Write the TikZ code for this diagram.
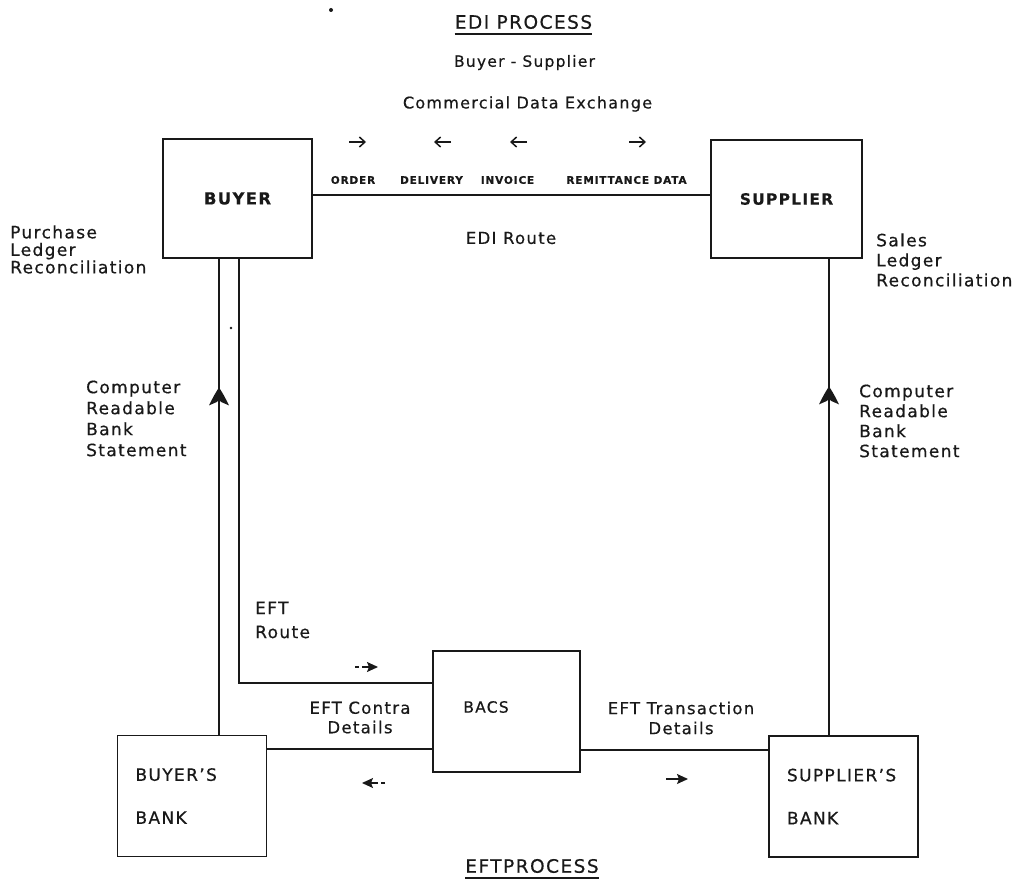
\documentclass[tikz,border=0pt]{standalone}
\usepackage{fontspec}
\setmainfont{DejaVu Sans}[LetterSpace=8, FakeBold=0.5]
\usetikzlibrary{arrows.meta,decorations.markings}
\definecolor{inkc}{gray}{0.1}

\tikzset{
  wire/.style={draw=inkc, line width=1.3pt},
  box/.style={wire, rectangle, inner sep=0pt},
  txt/.style={inner sep=0pt, text=inkc},
  side/.style={txt, align=left, anchor=west, font=\fontsize{17}{#1}\selectfont},
  mid/.style={txt, align=center, font=\fontsize{16.5}{#1}\selectfont},
  ttl/.style={txt, font=\fontsize{18.5}{20}\selectfont},
  tag/.style={txt, font=\bfseries\fontsize{10.5}{12}\selectfont},
  bank/.style={box, minimum height=121pt, text width=113pt, inner xsep=18pt,
               align=left, font=\fontsize{17}{43}\selectfont, text=inkc},
  % chevron head sitting on a line, pointing along the path
  upmark/.style={postaction={decorate}, decoration={markings,
      mark=at position #1 with {\fill[inkc] (11pt,0pt) .. controls (3pt,5pt) .. (-7pt,10pt)
          -- (-3.5pt,2pt) -- (-1pt,0pt) -- (-3.5pt,-2pt) -- (-7pt,-10pt)
          .. controls (3pt,-5pt) .. (11pt,0pt) -- cycle;}}},
  dirarrow/.style={draw=inkc, line width=1.5pt, -{Straight Barb[length=5.5pt,width=10pt]}},
  dart/.style={draw=inkc, line width=1.3pt, -{Stealth[length=11pt,width=10pt,inset=2pt]}},
}

\begin{document}
\begin{tikzpicture}[x=1pt, y=-1pt]
  \fill[white] (0,0) rectangle (1023,880);
  \useasboundingbox (0,0) rectangle (1023,880);

  % headings
  \node[ttl] (editl) at (523.5,22) {EDI PROCESS};
  \draw[inkc, line width=1.8pt] ([yshift=-4.5pt]editl.south west) -- ([yshift=-4.5pt]editl.south east);
  \node[txt, font=\fontsize{15.5}{18}\selectfont] (bs) at (524.5,62.5) {Buyer - Supplier};
  \node[txt, font=\fontsize{16}{18}\selectfont] (cde) at (527.5,104) {Commercial Data Exchange};

  \node[ttl] (eftl) at (532,866) {EFTPROCESS};
  \draw[inkc, line width=1.8pt] ([yshift=-5pt]eftl.south west) -- ([yshift=-5pt]eftl.south east);

  % stray marks
  \fill[inkc] (331,10) circle (2pt);
  \fill[inkc] (231,328) circle (1.3pt);

  % trading partners
  \node[box, minimum width=149pt, minimum height=119pt,
        font=\bfseries\fontsize{16.5}{18}\selectfont, text=inkc] (buyer) at (237.5,198.5) {BUYER};
  \node[box, minimum width=151pt, minimum height=118pt,
        font=\bfseries\fontsize{15.5}{18}\selectfont, text=inkc] (supplier) at (786.5,199) {SUPPLIER};

  % banks and clearing house
  \node[bank] (bbank) at (192,796) {BUYER'S\\BANK};
  \node[bank] (sbank) at (843.5,796.5) {SUPPLIER'S\\BANK};
  \node[box, minimum width=147pt, minimum height=121pt] (bacs) at (506.5,711.5) {};
  \node[txt, font=\fontsize{15.5}{16}\selectfont] (bacstxt) at (486,707) {BACS};

  % EDI route
  \draw[wire] ([yshift=3.5pt]buyer.east) -- ([yshift=3.5pt]buyer.east -| supplier.west);
  \node[tag] (order) at (353,180) {ORDER};
  \node[tag] (delivery) at (431.5,180) {DELIVERY};
  \node[tag] (invoice) at (507.5,180) {INVOICE};
  \node[tag] (remit) at (626.5,180) {REMITTANCE DATA};
  \draw[dirarrow] (349,142) -- (366,142);
  \draw[dirarrow] (451,142) -- (434,142);
  \draw[dirarrow] (527,142) -- (510,142);
  \draw[dirarrow] (629,142) -- (646,142);
  \node[mid=20] (ediroute) at (511,238) {EDI Route};

  % bank statements back to the ledgers
  \draw[wire, upmark=0.7065] ([xshift=27pt]bbank.north) -- ([xshift=27pt]bbank.north |- buyer.south);
  \draw[wire, upmark=0.709] ([xshift=-14.5pt]sbank.north) -- ([xshift=-14.5pt]sbank.north |- supplier.south);

  % EFT route
  \draw[wire] ([xshift=1.5pt]buyer.south) |- ([yshift=28.5pt]bacs.west);
  \draw[wire] ([yshift=47pt]bbank.east) -- ([yshift=47pt]bbank.east -| bacs.west);
  \draw[wire] ([yshift=-38.5pt]bacs.east) -- ([yshift=-38.5pt]bacs.east -| sbank.west);

  \draw[dart, dash pattern=on 4pt off 3pt on 40pt] (355,667) -- (378,667);
  \draw[dart, dash pattern=on 4pt off 3pt on 40pt] (385,783) -- (362,783);
  \draw[dart] (666,779) -- (688,779);

  % side annotations
  \node[side=17.5] (purch) at (10,249.5) {Purchase\\Ledger\\Reconciliation};
  \node[side=20] (sales) at (876,260) {Sales\\Ledger\\Reconciliation};
  \node[side=21] (crbl) at (86,418.5) {Computer\\Readable\\Bank\\Statement};
  \node[side=20] (crbr) at (859,421) {Computer\\Readable\\Bank\\Statement};
  \node[side=24] (eftroute) at (255,620) {EFT\\Route};
  \node[mid=19.5] (contra) at (360,717.5) {EFT Contra\\Details};
  \node[mid=20] (trans) at (681,718) {EFT Transaction\\Details};
\end{tikzpicture}
\end{document}
